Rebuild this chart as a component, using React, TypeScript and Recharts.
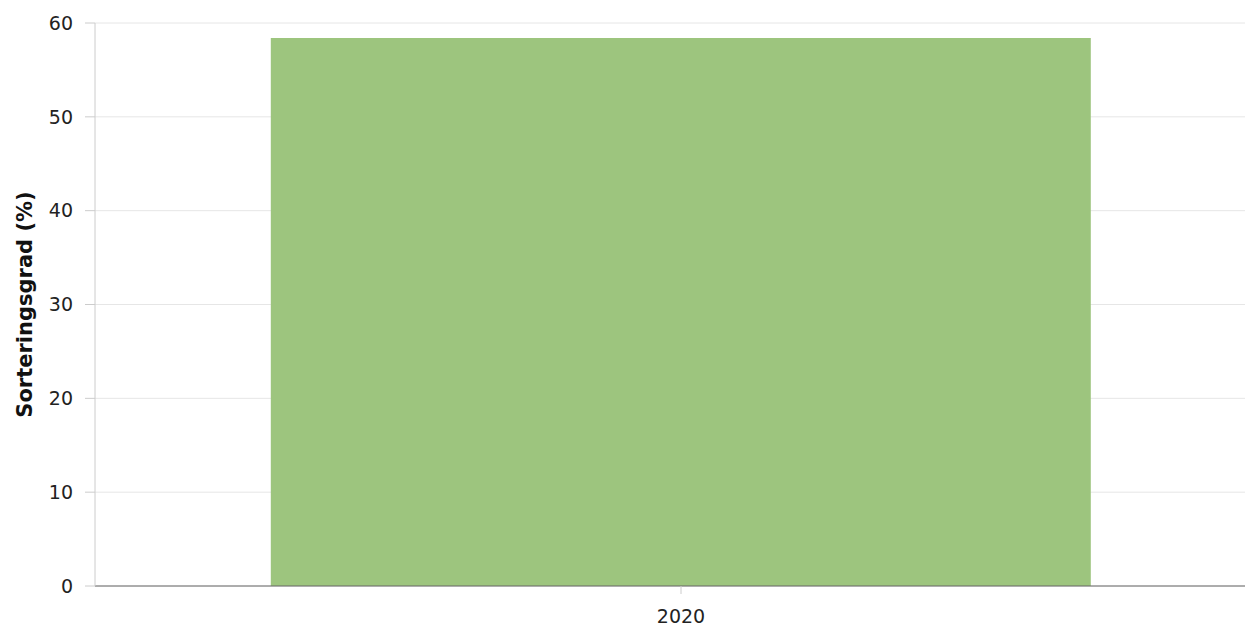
import { Bar, BarChart, CartesianGrid, XAxis, YAxis } from "recharts";

const years = ["2020"];
const sortingRate = [58.4];
const yTicks = [0, 10, 20, 30, 40, 50, 60];

const data = years.map((year, i) => ({ year, rate: sortingRate[i] }));

const font = "'DejaVu Sans', Verdana, sans-serif";

export default function App() {
  return (
    <div style={{ width: 1245, height: 620, overflow: "hidden", fontFamily: font }}>
      <BarChart
        width={1260}
        height={620}
        data={data}
        margin={{ top: 15, right: 1, left: 0, bottom: 12 }}
        barCategoryGap="15%"
      >
        <CartesianGrid vertical={false} stroke="#e6e6e6" />
        <XAxis
          dataKey="year"
          height={30}
          stroke="#666"
          tickSize={8}
          tickMargin={16}
          tickLine={{ stroke: "#ccc" }}
          tick={{ fill: "#222", fontSize: 19, fontFamily: font }}
        />
        <YAxis
          width={87}
          domain={[0, 60]}
          ticks={yTicks}
          stroke="#ccc"
          tickSize={10}
          tickMargin={12}
          tick={{ fill: "#222", fontSize: 19, fontFamily: font }}
          label={{
            value: "Sorteringsgrad (%)",
            angle: -90,
            position: "insideLeft",
            offset: 0,
            dx: 17,
            style: { textAnchor: "middle", fontWeight: "bold", fontSize: 21, fill: "#111", fontFamily: font },
          }}
        />
        <Bar dataKey="rate" fill="#9dc57e" isAnimationActive={false} />
      </BarChart>
    </div>
  );
}
